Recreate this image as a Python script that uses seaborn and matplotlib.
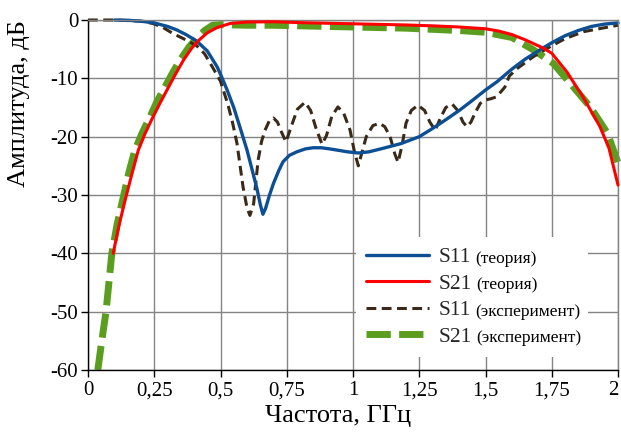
import numpy as np
import pandas as pd
import matplotlib.pyplot as plt
import seaborn as sns

f_s11_th = [0.10, 0.15, 0.20, 0.25, 0.30, 0.335, 0.37, 0.41, 0.45, 0.487, 0.50, 0.525, 0.55,
            0.575, 0.60, 0.62, 0.638, 0.65, 0.66, 0.67, 0.685, 0.70, 0.72, 0.736, 0.76, 0.788,
            0.82, 0.85, 0.88, 0.913, 0.94, 0.98, 1.02, 1.06, 1.113, 1.18, 1.25, 1.30, 1.35,
            1.404, 1.45, 1.50, 1.543, 1.60, 1.65, 1.717, 1.75, 1.80, 1.85, 1.90, 1.95, 2.0]
s11_th = [0, -0.05, -0.2, -0.5, -1.1, -1.7, -2.5, -3.6, -5.3, -8.0, -9.3, -12.0, -15.0,
          -18.6, -22.3, -25.8, -29.0, -31.6, -33.3, -32.3, -30.0, -28.0, -25.8, -24.3, -23.2, -22.6,
          -22.1, -21.9, -21.9, -22.1, -22.3, -22.6, -22.8, -22.6, -22.0, -21.2, -20.0, -18.6, -17.1,
          -15.4, -13.8, -12.0, -10.6, -8.4, -6.7, -4.8, -3.9, -2.7, -1.8, -1.1, -0.7, -0.5]

f_s21_th = [0.095, 0.118, 0.14, 0.165, 0.19, 0.215, 0.24, 0.27, 0.298, 0.33, 0.36, 0.39, 0.42,
            0.45, 0.487, 0.536, 0.6, 0.7, 0.8, 0.9, 1.0, 1.1, 1.2, 1.3, 1.4, 1.5, 1.55, 1.6,
            1.65, 1.717, 1.75, 1.807, 1.868, 1.932, 1.966, 2.0]
s21_th = [-40, -35, -30.9, -26.5, -22.3, -19.5, -17.1, -14.4, -12.0, -9.3, -6.9, -4.9, -3.4,
          -2.2, -1.3, -0.6, -0.35, -0.3, -0.45, -0.55, -0.65, -0.75, -0.85, -1.0, -1.2, -1.5, -1.9, -2.5,
          -3.4, -4.8, -5.7, -8.9, -13.2, -18.3, -22.0, -28.3]

f_s11_exp = [0.0, 0.1, 0.2, 0.245, 0.28, 0.32, 0.36, 0.41, 0.44, 0.47, 0.50, 0.528, 0.545,
             0.562, 0.585, 0.60, 0.611, 0.625, 0.642, 0.655, 0.668, 0.685, 0.70, 0.715, 0.73,
             0.747, 0.765, 0.79, 0.819, 0.84, 0.86, 0.883, 0.90, 0.92, 0.943, 0.965, 0.989,
             1.005, 1.02, 1.035, 1.05, 1.075, 1.10, 1.12, 1.14, 1.158, 1.17, 1.185, 1.20, 1.22,
             1.245, 1.27, 1.29, 1.31, 1.33, 1.35, 1.374, 1.395, 1.415, 1.43, 1.445, 1.46, 1.48,
             1.50, 1.52, 1.54, 1.56, 1.573, 1.59, 1.62, 1.68, 1.743, 1.80, 1.87, 1.94, 2.0]
s11_exp = [0, 0, -0.2, -0.6, -1.2, -2.3, -3.2, -4.4, -5.8, -8.1, -10.5, -14.5, -17.5,
           -21.1, -28.6, -32.2, -33.5, -31.5, -24.0, -20.8, -18.9, -17.2, -16.8, -17.5, -19.2,
           -20.9, -18.5, -15.3, -14.1, -15.5, -18.5, -21.3, -19.8, -16.5, -14.9, -16.0, -18.9,
           -22.5, -25.0, -22.5, -20.0, -18.1, -17.7, -18.3, -20.0, -23.0, -24.4, -21.5, -17.7, -15.5,
           -14.6, -15.5, -17.5, -18.9, -16.8, -15.0, -14.4, -15.5, -17.5, -18.3, -17.5, -16.0, -14.3,
           -13.7, -13.5, -13.2, -12.2, -11.5, -9.6, -8.3, -6.3, -4.6, -3.2, -2.0, -1.4, -0.9]

f_s21_exp = [0.037, 0.052, 0.068, 0.079, 0.09, 0.11, 0.135, 0.155, 0.177, 0.205, 0.234, 0.26,
             0.29, 0.32, 0.347, 0.38, 0.41, 0.44, 0.47, 0.5, 0.6, 0.7, 0.8, 0.9, 1.0, 1.1, 1.2,
             1.3, 1.4, 1.5, 1.6, 1.68, 1.755, 1.83, 1.895, 1.96, 2.0]
s21_exp = [-60, -55, -50, -45, -40, -35, -30, -26, -22.3, -19.3, -16.6, -14, -11.5, -9.0,
           -6.9, -4.7, -3.1, -1.8, -0.9, -0.8, -0.9, -0.9, -1.0, -1.1, -1.2, -1.3, -1.4, -1.6,
           -1.8, -2.1, -3.0, -5.1, -7.4, -11.4, -14.9, -19.4, -24.5]

big_labels = ["S11", "S21", "S11", "S21"]
small_labels = ["(теория)", "(теория)", "(эксперимент)", "(эксперимент)"]

x_ticks = [0, 0.25, 0.5, 0.75, 1, 1.25, 1.5, 1.75, 2]
x_tick_labels = ["0", "0,25", "0,5", "0,75", "1", "1,25", "1,5", "1,75", "2"]
y_ticks = [0, -10, -20, -30, -40, -50, -60]
y_tick_labels = ["0", "-10", "-20", "-30", "-40", "-50", "-60"]

sns.set_theme(style="whitegrid")
plt.rcParams['font.family'] = ['Liberation Serif', 'DejaVu Serif']
plt.rcParams['axes.unicode_minus'] = False

fig, ax = plt.subplots(figsize=(6.21, 4.33), dpi=100)
fig.subplots_adjust(left=0.1417, right=0.9952, bottom=0.1455, top=0.9538)

sns.lineplot(x=f_s11_th, y=s11_th, ax=ax, color="#0d4f94", lw=2.4, sort=False,
             estimator=None, clip_on=False, zorder=2.4, label=big_labels[0])
sns.lineplot(x=f_s21_th, y=s21_th, ax=ax, color="#ff0000", lw=2.2, sort=False,
             estimator=None, clip_on=False, zorder=2.6, label=big_labels[1])
sns.lineplot(x=f_s11_exp, y=s11_exp, ax=ax, color="#3a2a1a", lw=2.2, sort=False,
             estimator=None, clip_on=False, zorder=2.2, label=big_labels[2],
             linestyle=(0, (3.2, 1.8)))
sns.lineplot(x=f_s21_exp, y=s21_exp, ax=ax, color="#5b9e1f", lw=5, sort=False,
             estimator=None, clip_on=False, zorder=2.0, label=big_labels[3],
             linestyle=(0, (3.5, 1.2)))

ax.set_xlim(0, 2)
ax.set_ylim(-60, 0)
ax.set_xticks(x_ticks)
ax.set_xticklabels(x_tick_labels)
ax.set_yticks(y_ticks)
ax.set_yticklabels(y_tick_labels)
ax.tick_params(axis="both", labelsize=15, colors="black", length=5, width=1,
               left=True, bottom=True, direction="out")
ax.tick_params(axis="x", pad=3)
ax.tick_params(axis="y", pad=2)
ax.get_xticklabels()[-1].set_ha("right")
ax.grid(True, color="#848484", lw=1.0)
for s in ["left", "bottom"]:
    ax.spines[s].set_color("black")
    ax.spines[s].set_linewidth(1.0)
for s in ["top", "right"]:
    ax.spines[s].set_color("#848484")
    ax.spines[s].set_linewidth(1.0)

ax.set_xlabel("Частота, ГГц", fontsize=19, color="black")
ax.set_ylabel("Амплитуда, дБ", fontsize=19, color="black", loc="top")
ax.xaxis.set_label_coords(0.4726, -0.100)
ax.yaxis.set_label_coords(-0.109, 1.0)

handles, labels = ax.get_legend_handles_labels()
leg = ax.legend(handles, labels, loc="lower left",
                bbox_to_anchor=(0.506, 0.037, 0.438, 0.3), mode="expand",
                borderaxespad=0, frameon=True, facecolor="white", edgecolor="none",
                framealpha=1, fancybox=False, fontsize=15.5, handlelength=2.93,
                handletextpad=0.42, labelspacing=0.3, borderpad=0.47)
for t, s in zip(leg.get_texts(), small_labels):
    ax.annotate(s, xy=(1, 0), xycoords=t, xytext=(3, 0.6), textcoords="offset points",
                ha="left", va="bottom", fontsize=12.5, color="black", zorder=6)

plt.savefig("out.png")
